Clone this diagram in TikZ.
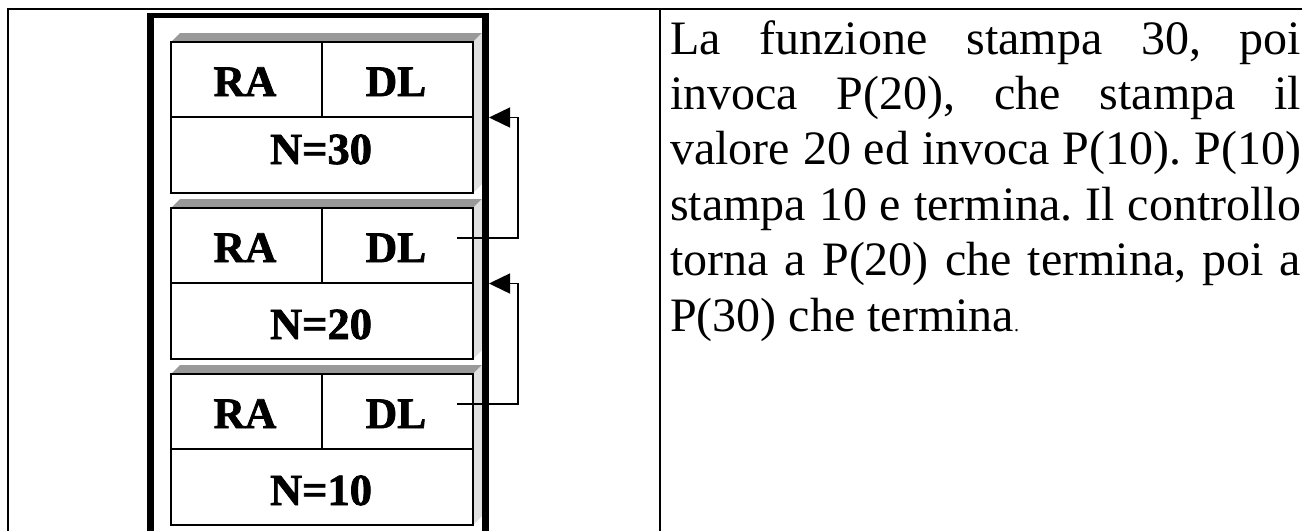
\documentclass[tikz,border=0pt]{standalone}
\usepackage{fontspec}
\setmainfont{Liberation Serif}
\newfontfamily\heavyserif{Liberation Serif}[BoldFeatures={FakeBold=1.6}]
\usetikzlibrary{arrows.meta}

\tikzset{
  grid line/.style={line width=2.2pt, black},
  topface/.style={fill=black!40},
  sideface/.style={fill=black!12},
  framebox/.style={draw=black, line width=1.6pt, fill=white, inner sep=0pt,
                   minimum width=302pt, minimum height=151pt},
  cell line/.style={line width=1.6pt, black},
  cell label/.style={anchor=base, inner sep=0pt,
                     font=\heavyserif\bfseries\fontsize{43.5}{45}\selectfont},
  value label/.style={anchor=base, inner sep=0pt,
                      font=\heavyserif\bfseries\fontsize{44.5}{46}\selectfont},
  link/.style={line width=1.5pt, black,
               -{Triangle[length=21pt, width=20pt]}},
}

\begin{document}
\begin{tikzpicture}[x=1pt, y=-1pt]
  \useasboundingbox (0,0) rectangle (1302,531);

  % table rules
  \draw[grid line] (8,531) -- (8,9) -- (1302,9);
  \draw[line width=2pt] (660,9) -- (660,531);

  % activation records, one per call
  \foreach \t/\v/\n/\k in {42/30/122/1, 208/20/131/2, 374/10/131/3} {
    \fill[topface] (171,\t) -- (180,\t-9) -- (482,\t-9) -- (473,\t) -- cycle;
    \fill[sideface] (473,\t) -- (482,\t-9) -- (482,\t+142) -- (473,\t+151) -- cycle;
    \node[framebox] (box\k) at (322,\t+75.5) {};
    \draw[cell line] (171,\t+75) -- (473,\t+75);
    \draw[cell line] (322,\t) -- (322,\t+75);
    \node[cell label] (ra\k) at (245,\t+54) {RA};
    \node[cell label] (dl\k) at (396,\t+54) {DL};
    \node[value label] (n\k) at (321,\t+\n) {N=\v};
  }

  % stack frame
  \fill (147,13) rectangle (489,18);
  \fill (147,13) rectangle (154,531);
  \fill (482,13) rectangle (489,531);

  % dynamic links
  \coordinate (from2) at (457,238);
  \coordinate (to1) at (489,117.5);
  \coordinate (from3) at (457,404);
  \coordinate (to2) at (489,283.5);
  \draw[link] (from2) -- ++(61,0) |- (to1);
  \draw[link] (from3) -- ++(61,0) |- (to2);

  % explanation
  \node[anchor=base west, inner sep=0pt] (desc) at (670,54) {%
    \parbox[t]{631pt}{\fontsize{48}{55.4}\selectfont\frenchspacing
      \tolerance=10000\hbadness=10000\noindent
      La funzione stampa 30, poi\linebreak
      invoca P(20), che stampa il\linebreak
      valore 20 ed invoca P(10). P(10)\linebreak
      stampa 10 e termina. Il controllo\linebreak
      torna a P(20) che termina, poi a\linebreak
      P(30) che termina{\fontsize{20}{20}\selectfont.}}};
\end{tikzpicture}
\end{document}
